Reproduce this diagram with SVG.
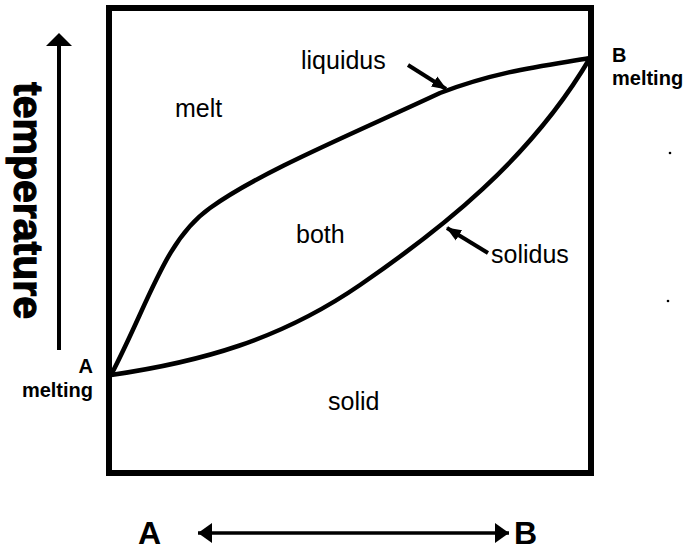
<svg xmlns="http://www.w3.org/2000/svg" width="688" height="551" viewBox="0 0 688 551">
<style>
.lbl{font-family:"Liberation Sans",Arial,sans-serif;font-size:25px;fill:#000}
.bold{font-family:"Liberation Sans",Arial,sans-serif;font-weight:bold;fill:#000}
.curve{fill:none;stroke:#000;stroke-width:4.5;stroke-linecap:round}
.ptr{fill:none;stroke:#000;stroke-width:4}
</style>
<defs>
<marker id="ah" markerUnits="userSpaceOnUse" markerWidth="16" markerHeight="16" viewBox="0 0 16 16" refX="14" refY="8" orient="auto">
<path d="M0,2 L15,8 L0,14 Z" fill="#000"/>
</marker>
<marker id="big" markerUnits="userSpaceOnUse" markerWidth="16" markerHeight="24" viewBox="0 0 16 24" refX="14" refY="12" orient="auto-start-reverse">
<path d="M0,2 L14,12 L0,22 Z" fill="#000"/>
</marker>
</defs>
<rect width="688" height="551" fill="#fff"/>
<g id="frame">
<rect x="109" y="8" width="482" height="465" fill="none" stroke="#000" stroke-width="6"/>
</g>
<g id="connectors">
<path id="liquidus-curve" class="curve" d="M111,375 C150,300 165,240 210,208 C260,172 350,135 440,93 C500,70 550,65 590,58"/>
<path id="solidus-curve" class="curve" d="M111,375 C200,362 280,340 360,285 C440,230 530,160 590,58"/>
<line class="ptr" x1="408" y1="65" x2="446" y2="89" marker-end="url(#ah)"/>
<line class="ptr" x1="488" y1="253" x2="447" y2="228" marker-end="url(#ah)"/>
<line x1="59" y1="350" x2="59" y2="42" stroke="#000" stroke-width="4"/>
<path d="M59,33 L72,46 L46,46 Z" fill="#000"/>
<line x1="198" y1="533" x2="509" y2="533" stroke="#000" stroke-width="3.5" marker-start="url(#big)" marker-end="url(#big)"/>
</g>
<g id="melt"><text class="lbl" x="175" y="117">melt</text></g>
<g id="both"><text class="lbl" x="296" y="243">both</text></g>
<g id="solid"><text class="lbl" x="328" y="410">solid</text></g>
<g id="liquidus"><text class="lbl" x="301" y="69">liquidus</text></g>
<g id="solidus"><text class="lbl" x="491" y="263">solidus</text></g>
<g id="a-melting">
<text class="bold" x="93" y="373" font-size="20" text-anchor="end">A</text>
<text class="bold" x="93" y="397" font-size="20" text-anchor="end">melting</text>
</g>
<g id="b-melting">
<text class="bold" x="612" y="62" font-size="20">B</text>
<text class="bold" x="612" y="85" font-size="20">melting</text>
</g>
<g id="temperature">
<text class="bold" font-size="41" stroke="#000" stroke-width="1.2" transform="translate(14,82) rotate(90)">temperature</text>
</g>
<g id="axis-labels">
<text class="bold" x="138" y="544" font-size="32">A</text>
<text class="bold" x="514" y="544" font-size="32">B</text>
</g>
<circle cx="670" cy="153" r="1.3" fill="#000"/>
<circle cx="668" cy="301" r="1.3" fill="#000"/>
</svg>
